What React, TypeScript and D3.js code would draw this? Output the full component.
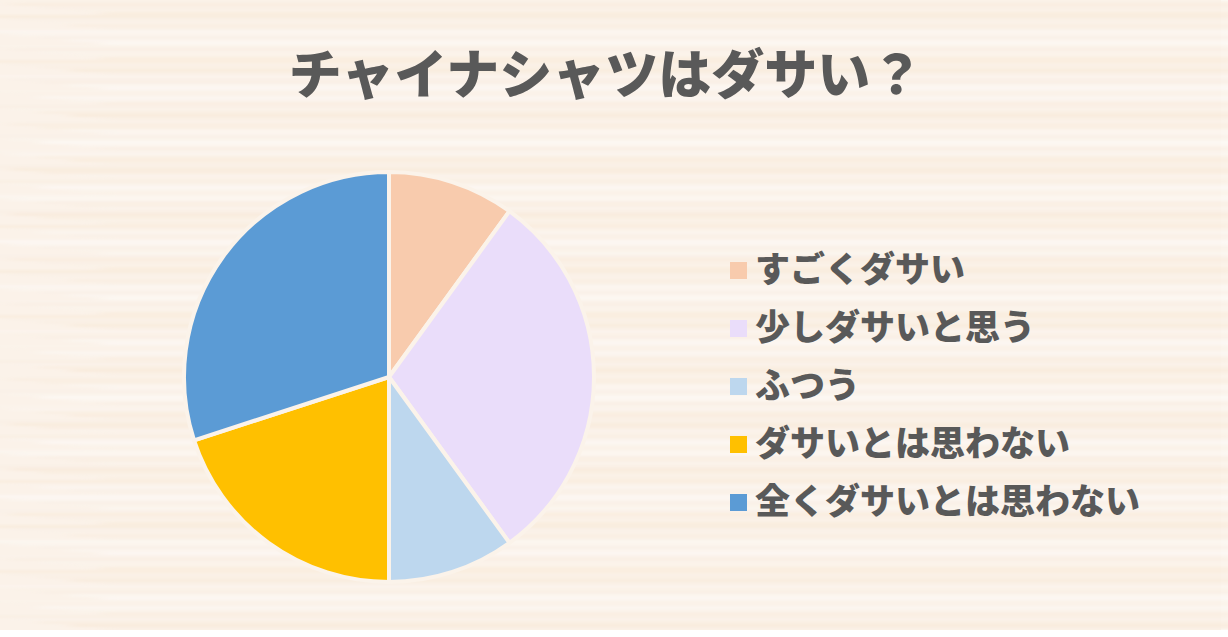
import React from 'react';
import * as d3 from 'd3';

const categories = ['すごくダサい', '少しダサいと思う', 'ふつう', 'ダサいとは思わない', '全くダサいとは思わない'];
const values = [10, 30, 10, 20, 30];
const colors = ['#F8CBAD', '#EADDFA', '#BDD7EE', '#FFC000', '#5B9BD5'];
const title = 'チャイナシャツはダサい？';

const W = 1228;
const H = 637;
const BG_W = 1221;
const BG_H = 630;

// wood-grain like horizontal streaks (decoration only)
const streaks = d3.range(0, BG_H, 3).map((y, i) => {
  const t = Math.sin(i * 1.7) * 0.5 + Math.sin(i * 0.37) * 0.5;
  return { y, c: d3.interpolateRgb('#FDF8F4', '#F8EBDC')((t + 1) / 2) };
});

const App = () => {
  const cx = 389;
  const cy = 377;
  const r = 205;

  const pie = d3.pie<number>().sort(null).value(d => d);
  const arc = d3.arc<d3.PieArcDatum<number>>().innerRadius(0).outerRadius(r);
  const arcs = pie(values);

  const legendY = d3.scalePoint<number>().domain(d3.range(categories.length)).range([270, 502]);

  return (
    <div style={{ position: 'absolute', left: 0, top: 0, width: W, height: H, background: '#fff' }}>
      <svg width={W} height={H}>
        <defs>
          <filter id="blur" x="0" y="0" width="100%" height="100%">
            <feGaussianBlur stdDeviation="8 1" />
          </filter>
        </defs>
        <rect x={0} y={0} width={BG_W} height={BG_H} fill="#FBF2E9" />
        <g filter="url(#blur)">
          {streaks.map((s, i) => (
            <rect key={i} x={-20 + (i % 5) * 30} y={s.y} width={BG_W + 40} height={3} fill={s.c} opacity={0.9} />
          ))}
        </g>
        <text
          x={606}
          y={94}
          textAnchor="middle"
          fontFamily="'Noto Sans CJK JP'"
          fontWeight={900}
          fontSize={53}
          fill="#595959"
        >
          {title}
        </text>
        <g transform={`translate(${cx},${cy})`}>
          {arcs.map((a, i) => (
            <path key={i} d={arc(a) || ''} fill={colors[i]} stroke="#FBF3EA" strokeWidth={4} strokeLinejoin="round" />
          ))}
        </g>
        <g>
          {categories.map((c, i) => (
            <g key={c} transform={`translate(0,${legendY(i)})`}>
              <rect x={730} y={-8} width={17} height={17} fill={colors[i]} />
              <text
                x={755}
                y={0}
                dy="0.35em"
                fontFamily="'Noto Sans CJK JP'"
                fontWeight={900}
                fontSize={35}
                fill="#595959"
              >
                {c}
              </text>
            </g>
          ))}
        </g>
      </svg>
    </div>
  );
};

export default App;
